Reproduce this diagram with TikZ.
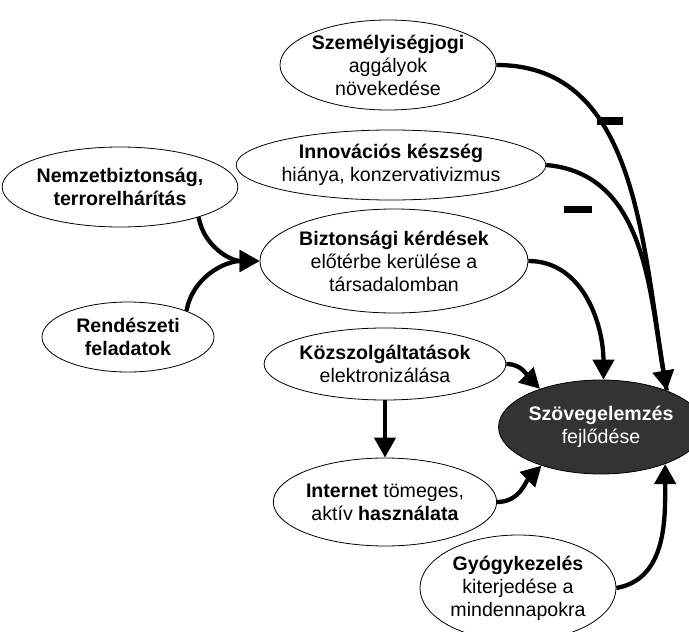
\documentclass[tikz,border=0pt]{standalone}
\usepackage{fontspec}
\setmainfont{Liberation Sans}
\usetikzlibrary{shapes.geometric,arrows.meta}
\begin{document}
\begin{tikzpicture}[x=1pt,y=-1pt,
  factor/.style={ellipse,draw=black,line width=0.8pt,fill=white,inner sep=0pt,
    align=center,font=\fontsize{19.6}{23}\selectfont},
  core/.style={factor,fill=black!80,text=white},
  link/.style={line width=4.3pt,-{Triangle[length=20pt,width=21pt]}},
  plain/.style={line width=4.3pt},
  minus/.style={fill=black}]
\useasboundingbox (0,0) rectangle (689,632);

% factors
\node[factor,minimum width=216pt,minimum height=90pt] (pers) at (388,65)
  {\textbf{Személyiségjogi}\\aggályok\\növekedése};
\node[factor,minimum width=258pt,minimum height=70pt] (innov) at (391,165)
  {\textbf{Innovációs készség}\\hiánya, konzervativizmus};
\node[factor,minimum width=214pt,minimum height=80pt] (natsec) at (120,187)
  {\textbf{Nemzetbiztonság,}\\\textbf{terrorelhárítás}};
\node[factor,minimum width=244pt,minimum height=104pt] (secq) at (394,261)
  {\textbf{Biztonsági kérdések}\\előtérbe kerülése a\\társadalomban};
\node[factor,minimum width=172pt,minimum height=70pt] (police) at (128,337)
  {\textbf{Rendészeti}\\\textbf{feladatok}};
\node[factor,minimum width=216pt,minimum height=72pt] (pubsvc) at (385,364)
  {\textbf{Közszolgáltatások}\\elektronizálása};
\node[factor,minimum width=196pt,minimum height=88pt] (inet) at (385,502)
  {\textbf{Internet} tömeges,\\aktív \textbf{használata}};
\node[factor,minimum width=196pt,minimum height=106pt] (med) at (518,588)
  {\textbf{Gyógykezelés}\\kiterjedése a\\mindennapokra};
\node[core,minimum width=174pt,minimum height=94pt] (text) at (601,427)
  {\textbf{Szövegelemzés}\\fejlődése};

% influences on text analytics
\draw[plain] (pers.east) to[out=0,in=100] (text.29);
\draw[link]  (innov.east) to[out=-5,in=100] (text.29);
\draw[link]  (secq.east) to[out=0,in=90] (text.87);
\draw[link]  (pubsvc.east) to[out=0,in=135] (text.148);
\draw[link]  (inet.east) to[out=0,in=225] (text.213);
\draw[link]  (med.east) to[out=10,in=-90] (text.-30);
\draw[link]  (pubsvc.south) -- (inet.north);

% influences on security questions
\draw[link]  (natsec.-21) to[out=-80,in=180] (secq.west);
\draw[link]  (police.24) to[out=80,in=180] (secq.west);

% negative effects
\fill[minus] (597,117) rectangle (623,125);
\fill[minus] (564,206) rectangle (592,213);
\end{tikzpicture}
\end{document}
